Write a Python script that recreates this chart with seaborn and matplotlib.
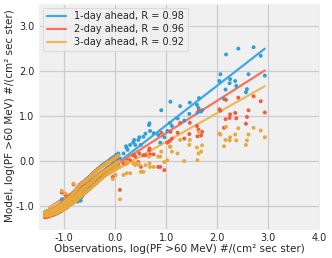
import pandas as pd
import numpy as np
import matplotlib
matplotlib.use("Agg")
import matplotlib.pyplot as plt
import seaborn as sns

# --- data ---
leads = ['1-day ahead', '2-day ahead', '3-day ahead']
r_values = [0.98, 0.96, 0.92]
fit_slope = [0.88, 0.72, 0.64]
fit_intercept = [-0.08, -0.095, -0.21]
colors = ['#2c9fdd', '#f5583d', '#e6a93a']
line_colors = ['#3fa8e5', '#f6735e', '#ebba58']

# dense band of quiet-time observations
band_obs = [
    -1.38, -1.37, -1.38, -1.34, -1.33, -1.34, -1.30, -1.29, -1.30, -1.26, -1.25, -1.26,
    -1.22, -1.21, -1.22, -1.18, -1.17, -1.18, -1.14, -1.13, -1.14, -1.10, -1.09, -1.10,
    -1.06, -1.05, -1.06, -1.02, -1.01, -1.02, -0.98, -0.97, -0.98, -0.94, -0.93, -0.94,
    -0.90, -0.89, -0.90, -0.86, -0.85, -0.86, -0.82, -0.81, -0.82, -0.78, -0.77, -0.78,
    -0.74, -0.73, -0.74, -0.70, -0.69, -0.70, -0.66, -0.65, -0.66, -0.62, -0.61, -0.62,
    -0.58, -0.57, -0.58, -0.54, -0.53, -0.54, -0.50, -0.49, -0.50, -0.46, -0.45, -0.46,
    -0.42, -0.41, -0.42, -0.38, -0.37, -0.38, -0.34, -0.33, -0.34, -0.30, -0.29, -0.30,
    -0.26, -0.25, -0.26, -0.22, -0.21, -0.22, -0.18, -0.17, -0.18, -0.14, -0.13, -0.14,
    -0.10, -0.09, -0.10, -0.06, -0.05, -0.06, -0.02, -0.01, -0.02, 0.02, 0.03, 0.02,
    0.06, 0.07, 0.06,
]
band_day1 = [
    -1.24, -1.18, -1.14, -1.22, -1.17, -1.11, -1.21, -1.15, -1.10, -1.20, -1.13, -1.08,
    -1.19, -1.12, -1.06, -1.17, -1.10, -1.04, -1.15, -1.08, -1.02, -1.13, -1.06, -0.99,
    -1.10, -1.03, -0.96, -1.07, -0.99, -0.92, -1.04, -0.96, -0.88, -1.01, -0.92, -0.84,
    -0.97, -0.88, -0.80, -0.94, -0.84, -0.75, -0.91, -0.80, -0.70, -0.88, -0.76, -0.65,
    -0.90, -0.71, -0.59, -0.87, -0.66, -0.53, -0.80, -0.62, -0.49, -0.72, -0.58, -0.46,
    -0.68, -0.54, -0.42, -0.64, -0.50, -0.38, -0.60, -0.46, -0.34, -0.56, -0.42, -0.29,
    -0.52, -0.38, -0.25, -0.48, -0.34, -0.21, -0.44, -0.30, -0.17, -0.40, -0.27, -0.13,
    -0.36, -0.23, -0.09, -0.32, -0.20, -0.06, -0.28, -0.16, -0.03, -0.25, -0.13, 0.00,
    -0.21, -0.10, 0.04, -0.18, -0.06, 0.07, -0.15, -0.03, 0.10, -0.11, 0.01, 0.14,
    -0.08, 0.04, 0.17,
]
band_day2 = [
    -1.25, -1.19, -1.14, -1.24, -1.17, -1.12, -1.23, -1.16, -1.11, -1.21, -1.14, -1.09,
    -1.20, -1.13, -1.07, -1.18, -1.11, -1.05, -1.16, -1.09, -1.03, -1.14, -1.07, -1.00,
    -1.11, -1.04, -0.96, -1.08, -1.00, -0.92, -1.05, -0.96, -0.88, -1.02, -0.92, -0.84,
    -0.98, -0.88, -0.80, -0.95, -0.84, -0.75, -0.92, -0.80, -0.70, -0.89, -0.76, -0.65,
    -0.85, -0.71, -0.59, -0.81, -0.66, -0.53, -0.77, -0.62, -0.49, -0.73, -0.58, -0.46,
    -0.69, -0.55, -0.43, -0.65, -0.51, -0.39, -0.61, -0.47, -0.35, -0.57, -0.43, -0.30,
    -0.53, -0.39, -0.26, -0.49, -0.35, -0.22, -0.45, -0.31, -0.18, -0.41, -0.28, -0.14,
    -0.37, -0.24, -0.11, -0.33, -0.21, -0.08, -0.29, -0.18, -0.05, -0.26, -0.15, -0.02,
    -0.23, -0.12, 0.01, -0.20, -0.09, 0.04, -0.17, -0.06, 0.07, -0.14, -0.03, 0.10,
    -0.11, 0.00, 0.13,
]
band_day3 = [
    -1.22, -1.18, -1.13, -1.21, -1.16, -1.12, -1.20, -1.15, -1.10, -1.19, -1.14, -1.09,
    -1.18, -1.12, -1.07, -1.16, -1.11, -1.05, -1.15, -1.09, -1.03, -1.13, -1.07, -1.00,
    -1.10, -1.04, -0.97, -1.07, -1.00, -0.93, -1.04, -0.97, -0.89, -1.01, -0.93, -0.85,
    -0.98, -0.89, -0.81, -0.95, -0.85, -0.76, -0.92, -0.81, -0.71, -0.89, -0.77, -0.66,
    -0.85, -0.72, -0.60, -0.81, -0.67, -0.54, -0.77, -0.63, -0.50, -0.73, -0.59, -0.47,
    -0.69, -0.56, -0.44, -0.65, -0.52, -0.40, -0.62, -0.48, -0.36, -0.58, -0.44, -0.31,
    -0.54, -0.40, -0.27, -0.50, -0.36, -0.23, -0.46, -0.32, -0.19, -0.42, -0.29, -0.15,
    -0.38, -0.25, -0.12, -0.34, -0.22, -0.09, -0.30, -0.19, -0.06, -0.27, -0.16, -0.03,
    -0.24, -0.13, 0.00, -0.21, -0.10, 0.03, -0.18, -0.07, 0.06, -0.15, -0.04, 0.09,
    -0.12, -0.01, 0.12,
]

# scattered event points
spread_obs = [
    -1.05, -0.98, -0.82, -0.68, -0.05, 0.00, 0.09, 0.16, 0.21, 0.22, 0.24, 0.29,
    0.35, 0.37, 0.39, 0.45, 0.47, 0.50, 0.55, 0.59, 0.66, 0.67, 0.68, 0.75,
    0.84, 0.88, 0.90, 0.96, 1.02, 1.07, 1.08, 1.11, 1.22, 1.27, 1.35, 1.45,
    1.46, 1.60, 1.61, 1.63, 1.64, 1.68, 1.70, 2.04, 2.06, 2.13, 2.16, 2.17,
    2.24, 2.25, 2.35, 2.37, 2.41, 2.56, 2.58, 2.61, 2.71, 2.85, 2.93,
]
spread_day1 = [
    -0.85, -0.95, -0.70, -0.88, -0.05, 0.10, 0.06, 0.17, 0.33, 0.30, 0.25, 0.36,
    0.42, 0.47, 0.36, 0.47, 0.53, 0.36, 0.54, 0.61, 0.80, 0.84, 0.67, 0.62,
    0.58, 0.41, 1.13, 0.53, 0.67, 0.85, 1.32, 0.78, 0.95, 1.22, 0.90, 1.05,
    1.30, 1.25, 1.08, 1.18, 1.40, 1.10, 1.13, 1.78, 1.93, 1.38, 1.59, 2.37,
    1.73, 1.82, 1.78, 1.67, 2.50, 1.53, 1.60, 1.93, 2.53, 2.34, 1.90,
]
spread_day2 = [
    -0.70, -0.75, -0.52, -0.78, -0.35, -0.31, -0.64, -0.05, -0.05, -0.05, 0.02, 0.02,
    0.13, 0.13, 0.10, -0.02, 0.17, -0.13, 0.13, 0.13, 0.24, 0.28, 0.15, 0.15,
    -0.13, -0.13, 0.63, -0.20, 0.41, 0.45, 0.65, 0.50, 0.63, 0.85, 0.50, 0.60,
    0.85, 0.78, 0.55, 0.70, 1.13, 0.57, 0.65, 1.15, 1.12, 0.74, 0.93, 1.36,
    0.96, 1.04, 1.07, 0.95, 1.41, 0.83, 0.98, 1.13, 1.44, 1.33, 1.08,
]
spread_day3 = [
    -0.66, -0.72, -0.50, -0.74, -0.40, -0.31, -0.85, -0.31, -0.05, -0.27, -0.02, -0.27,
    -0.05, -0.05, -0.09, -0.05, -0.09, -0.24, -0.24, -0.09, 0.10, -0.05, -0.13, -0.13,
    0.10, 0.10, 0.21, -0.02, 0.02, 0.32, 0.32, 0.21, 0.17, 0.47, 0.00, 0.36,
    0.47, 0.30, 0.02, 0.17, 0.65, 0.21, 0.35, 0.61, 0.59, 0.33, 0.47, 0.76,
    0.46, 0.53, 0.59, 0.46, 0.73, 0.36, 0.46, 0.59, 0.74, 0.68, 0.53,
]

# --- build long table ---
obs = band_obs + spread_obs
models = [band_day1 + spread_day1, band_day2 + spread_day2, band_day3 + spread_day3]
frames = []
for lead, vals in zip(leads, models):
    frames.append(pd.DataFrame({'obs': obs, 'model': vals, 'lead': lead}))
df = pd.concat(frames, ignore_index=True)

# --- style ---
sns.set_style("darkgrid", {
    'axes.facecolor': '#f0f0f0',
    'grid.color': '#cbcbcb',
    'axes.edgecolor': '#f0f0f0',
})
plt.rcParams['font.family'] = ['DejaVu Sans']
plt.rcParams['axes.unicode_minus'] = False

fig = plt.figure(figsize=(3.32, 2.58), dpi=100)
ax = fig.add_axes([0.117, 0.114, 0.845, 0.872])

# fit lines over the observation range
x_fit = [-1.3, max(obs)]
for i, lead in enumerate(leads):
    y_fit = [fit_slope[i] * x + fit_intercept[i] for x in x_fit]
    sns.lineplot(x=x_fit, y=y_fit, color=line_colors[i], lw=1.6, ax=ax, zorder=2,
                 label=f'{lead}, R = {r_values[i]:.2f}')

sns.scatterplot(data=df, x='obs', y='model', hue='lead', palette=colors,
                s=8, linewidth=0, alpha=1.0, legend=False, ax=ax, zorder=3)

ax.set_xlim(-1.5, 4.0)
ax.set_ylim(-1.5, 3.5)
ax.set_xticks([-1.0, 0.0, 1.0, 2.0, 3.0, 4.0])
ax.set_yticks([-1.0, 0.0, 1.0, 2.0, 3.0])
ax.xaxis.set_major_formatter(matplotlib.ticker.FormatStrFormatter('%.1f'))
ax.yaxis.set_major_formatter(matplotlib.ticker.FormatStrFormatter('%.1f'))
ax.tick_params(labelsize=7, length=0, pad=3)
ax.grid(True, lw=0.9)

ax.set_xlabel('Observations, log(PF >60 MeV) #/(cm² sec ster)', fontsize=7.5, labelpad=1)
ax.set_ylabel('Model, log(PF >60 MeV) #/(cm² sec ster)', fontsize=7.5, labelpad=1)

leg = ax.legend(loc='upper left', fontsize=7, labelspacing=0.3, handlelength=2.0,
                frameon=True, facecolor='#f0f0f0', edgecolor='#d8d8d8',
                borderaxespad=0.4)
leg.get_frame().set_linewidth(0.8)

fig.savefig('out.png', dpi=100, facecolor='white')
